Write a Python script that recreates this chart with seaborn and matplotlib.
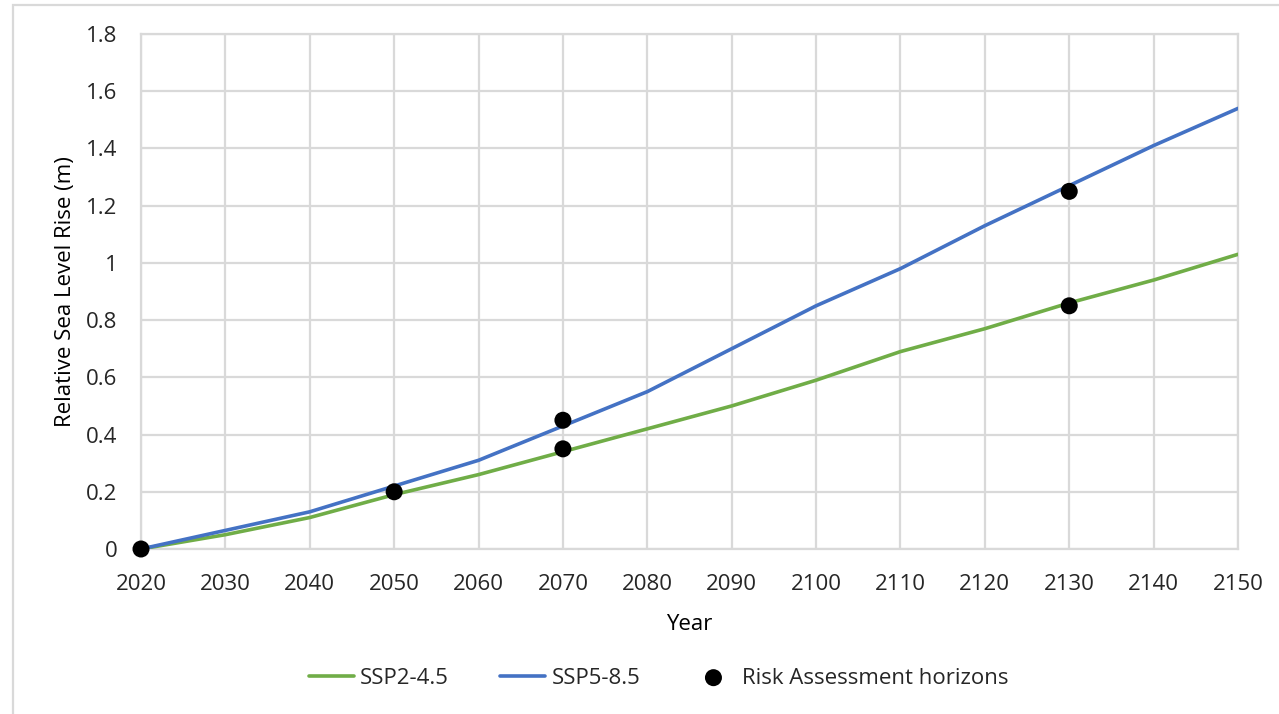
import matplotlib
matplotlib.use("Agg")
import matplotlib.pyplot as plt
import seaborn as sns
import pandas as pd
from matplotlib.ticker import FuncFormatter, MultipleLocator
from matplotlib.patches import Rectangle

years = [2020, 2030, 2040, 2050, 2060, 2070, 2080, 2090, 2100, 2110, 2120, 2130, 2140, 2150]
ssp245 = [0.0, 0.05, 0.11, 0.19, 0.26, 0.34, 0.42, 0.50, 0.59, 0.69, 0.77, 0.86, 0.94, 1.03]
ssp585 = [0.0, 0.065, 0.13, 0.22, 0.31, 0.43, 0.55, 0.70, 0.85, 0.98, 1.13, 1.27, 1.41, 1.54]
horizon_years = [2020, 2050, 2070, 2070, 2130, 2130]
horizon_values = [0.0, 0.2, 0.35, 0.45, 0.85, 1.25]

sns.set_theme(style="white")
plt.rcParams['font.family'] = ['Open Sans', 'DejaVu Sans']

fig = plt.figure(figsize=(12.79, 7.14), dpi=100)
ax = fig.add_axes([141/1279, 1-549/714, (1238-141)/1279, (549-34)/714])

df = pd.DataFrame({"Year": years * 2,
                   "value": ssp245 + ssp585,
                   "Scenario": ["SSP2-4.5"] * len(years) + ["SSP5-8.5"] * len(years)})
sns.lineplot(data=df, x="Year", y="value", hue="Scenario",
             palette={"SSP2-4.5": "#70AD47", "SSP5-8.5": "#4472C4"},
             linewidth=2.6, ax=ax, zorder=3)
sns.scatterplot(x=horizon_years, y=horizon_values, color="black", s=150,
                edgecolor="none", ax=ax, zorder=4, label="Risk Assessment horizons", clip_on=False)

ax.set_xlim(2020, 2150)
ax.set_ylim(0, 1.8)
ax.xaxis.set_major_locator(MultipleLocator(10))
ax.yaxis.set_major_locator(MultipleLocator(0.2))
ax.yaxis.set_major_formatter(FuncFormatter(lambda v, p: f"{round(v, 1):g}"))
ax.grid(True, color="#D9D9D9", linewidth=1.6)
for s in ax.spines.values():
    s.set_color("#D9D9D9")
    s.set_linewidth(1.6)
ax.tick_params(axis="both", labelsize=16, colors="#262626", length=0)
ax.tick_params(axis="x", pad=18)
ax.tick_params(axis="y", pad=17)
ax.set_xlabel("Year", fontsize=16, color="black", labelpad=14)
ax.set_ylabel("Relative Sea Level Rise (m)", fontsize=16, color="black", labelpad=7.5)

handles, labels = ax.get_legend_handles_labels()
leg = ax.legend(handles, labels, loc="center", bbox_to_anchor=(659/1279, 1-678/714),
                bbox_transform=fig.transFigure, ncol=3, frameon=False, fontsize=16,
                handlelength=2.0, columnspacing=2.3, handletextpad=0.3)
for t in leg.get_texts():
    t.set_color("#262626")

fig.patches.append(Rectangle((13/1279, -0.1), 1.2, 1-5/714 + 0.1, transform=fig.transFigure,
                             fill=False, edgecolor="#D9D9D9", linewidth=1.6, zorder=0))

fig.savefig("out.png", dpi=100)
